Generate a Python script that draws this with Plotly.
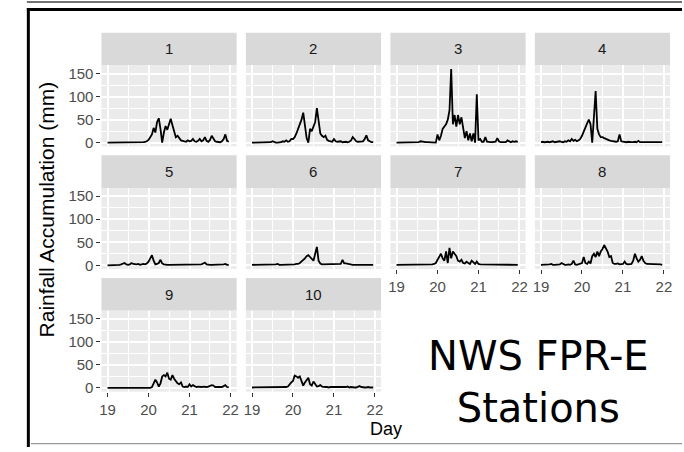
import plotly.graph_objects as go

# ---------------- data ----------------
STATIONS = ["1", "2", "3", "4", "5", "6", "7", "8", "9", "10"]
START_DAY = 19
HOURS_PER_DAY = 24
X_TICKS = [19, 20, 21, 22]
Y_TICKS = [0, 50, 100, 150]

s1 = [0, 0, 0, 0, 0, 0, 0, 0, 0, 0, 0, 0,
      0, 0, 0, 0, 0, 0, 0, 0, 0, 1, 2, 3,
      6, 12, 18, 32, 22, 45, 53, 30, 0, 22, 36, 28,
      40, 52, 38, 22, 12, 15, 10, 5, 4, 3, 2, 5,
      3, 4, 8, 3, 2, 4, 8, 3, 5, 12, 4, 2,
      6, 15, 8, 3, 2, 2, 1, 3, 8, 18, 4, 2]
s2 = [0, 0, 0, 0, 0, 0, 0, 0, 0, 0, 0, 1,
      3, 1, 0, 0, 0, 1, 3, 2, 5, 2, 3, 8,
      8, 12, 20, 30, 38, 50, 65, 35, 10, 0, 30, 25,
      35, 45, 75, 40, 20, 15, 12, 15, 6, 4, 3, 2,
      8, 3, 2, 2, 3, 1, 2, 2, 1, 2, 5, 12,
      8, 3, 2, 2, 2, 3, 8, 16, 5, 2, 1, 1]
s3 = [0, 0, 0, 0, 0, 0, 0, 0, 0, 0, 0, 0,
      0, 1, 3, 2, 1, 1, 1, 1, 1, 1, 0, 0,
      18, 5, 15, 30, 35, 40, 50, 70, 160, 40, 60, 35,
      60, 40, 55, 30, 10, 25, 5, 20, 3, 20, 0, 105,
      5, 8, 2, 2, 12, 2, 1, 1, 1, 1, 2, 10,
      3, 1, 1, 1, 1, 5, 2, 1, 3, 2, 3, 2]
s4 = [1, 2, 1, 2, 2, 1, 2, 3, 1, 2, 2, 3,
      2, 1, 3, 2, 5, 3, 8, 4, 6, 3, 5, 8,
      15, 25, 35, 42, 50, 40, 0, 50, 112, 30, 18, 12,
      12, 10, 8, 6, 5, 4, 3, 3, 2, 3, 18, 3,
      2, 2, 1, 2, 1, 1, 1, 2, 1, 4, 1, 1,
      1, 1, 2, 1, 1, 1, 1, 1, 1, 2, 1, 1]
s5 = [0, 0, 0, 0, 0, 0, 0, 1, 2, 3, 5, 2,
      1, 2, 5, 3, 2, 2, 3, 1, 2, 3, 2, 4,
      8, 15, 22, 10, 2, 3, 5, 12, 4, 2, 1, 1,
      1, 1, 2, 1, 1, 1, 1, 1, 1, 1, 1, 1,
      1, 1, 1, 1, 1, 1, 1, 2, 4, 6, 2, 1,
      1, 1, 1, 1, 1, 1, 1, 1, 2, 3, 1, 1]
s6 = [1, 1, 1, 1, 1, 1, 1, 1, 1, 1, 1, 1,
      1, 1, 2, 3, 1, 1, 1, 1, 1, 1, 1, 1,
      1, 2, 3, 3, 5, 8, 12, 15, 20, 22, 18, 15,
      10, 25, 40, 10, 4, 2, 2, 2, 2, 2, 2, 2,
      2, 2, 3, 2, 3, 12, 4, 4, 3, 2, 2, 1,
      1, 1, 1, 1, 1, 1, 1, 1, 1, 1, 1, 1]
s7 = [1, 1, 1, 1, 1, 1, 1, 1, 2, 1, 1, 1,
      1, 1, 1, 1, 2, 1, 1, 2, 1, 2, 3, 5,
      12, 20, 25, 15, 10, 30, 5, 38, 15, 30, 25, 20,
      10, 8, 12, 5, 4, 8, 5, 3, 10, 6, 3, 8,
      3, 2, 2, 1, 1, 1, 1, 1, 1, 1, 1, 1,
      1, 1, 1, 1, 1, 1, 1, 1, 1, 1, 1, 1]
s8 = [1, 1, 1, 1, 1, 2, 3, 1, 1, 1, 1, 2,
      5, 2, 1, 1, 2, 1, 3, 10, 2, 1, 2, 3,
      5, 18, 5, 3, 8, 4, 20, 25, 18, 30, 20, 30,
      35, 44, 38, 30, 18, 20, 5, 3, 3, 4, 2, 3,
      3, 8, 3, 2, 2, 3, 10, 25, 15, 8, 12, 20,
      10, 5, 3, 3, 2, 2, 2, 2, 2, 2, 2, 1]
s9 = [0, 0, 0, 0, 0, 0, 0, 0, 0, 0, 0, 0,
      0, 0, 0, 0, 0, 0, 0, 0, 0, 0, 0, 0,
      0, 0, 2, 10, 18, 12, 3, 10, 25, 28, 25, 33,
      20, 18, 28, 20, 15, 10, 8, 12, 3, 2, 3, 2,
      8, 3, 6, 3, 2, 3, 2, 2, 3, 2, 2, 3,
      4, 6, 5, 2, 2, 2, 2, 2, 4, 6, 2, 1]
s10 = [1, 1, 1, 1, 1, 1, 2, 1, 1, 1, 2, 1,
       1, 1, 1, 1, 2, 1, 1, 1, 2, 3, 8, 12,
       15, 27, 25, 22, 25, 15, 5, 12, 18, 22, 8, 5,
       14, 8, 3, 4, 6, 3, 2, 2, 2, 1, 2, 2,
       2, 1, 1, 2, 1, 1, 1, 2, 3, 1, 2, 1,
       1, 1, 3, 4, 2, 1, 1, 1, 2, 1, 1, 1]
SERIES = [s1, s2, s3, s4, s5, s6, s7, s8, s9, s10]

# ---------------- layout geometry (pixels) ----------------
W, H = 684, 452
COL_LEFT = [100, 245.3, 390.7, 536]
COL_W = 136
ROW_TOP = [66, 190, 314]
ROW_H = 82
STRIP_H = 33


def px(x):
    return x / W


def py(y):
    return 1 - y / H


TICK_FONT = dict(family="Liberation Sans, Arial", size=15, color="#4D4D4D")

fig = go.Figure()
layout = {}
shapes = []
annotations = []

for i, (name, vals) in enumerate(zip(STATIONS, SERIES)):
    r, c = divmod(i, 4)
    k = "" if i == 0 else str(i + 1)
    xs = [START_DAY + h / HOURS_PER_DAY for h in range(len(vals))]
    fig.add_trace(go.Scatter(x=xs, y=vals, mode="lines",
                             line=dict(color="black", width=1.8),
                             xaxis="x" + k, yaxis="y" + k,
                             showlegend=False, hoverinfo="skip"))
    x0, x1 = COL_LEFT[c], COL_LEFT[c] + COL_W
    y0, y1 = ROW_TOP[r], ROW_TOP[r] + ROW_H
    show_x = i >= 6
    show_y = c == 0
    layout["xaxis" + k] = dict(
        domain=[px(x0), px(x1)], anchor="y" + k, range=[18.85, 22.15],
        tickvals=X_TICKS, showticklabels=show_x,
        ticks="outside" if show_x else "", ticklen=4, tickwidth=1.1,
        tickcolor="#333333", tickfont=TICK_FONT,
        showgrid=True, gridcolor="white", gridwidth=1.6, zeroline=False,
        showline=False,
        minor=dict(dtick=0.5, tick0=19, showgrid=True, gridcolor="white",
                   gridwidth=0.8, ticks=""))
    layout["yaxis" + k] = dict(
        domain=[py(y1), py(y0)], anchor="x" + k, range=[-8, 168],
        tickvals=Y_TICKS, showticklabels=show_y,
        ticks="outside" if show_y else "", ticklen=4, tickwidth=1.1,
        tickcolor="#333333", tickfont=TICK_FONT,
        showgrid=True, gridcolor="white", gridwidth=1.6, zeroline=False,
        showline=False,
        minor=dict(dtick=25, tick0=0, showgrid=True, gridcolor="white",
                   gridwidth=0.8, ticks=""))
    # strip
    shapes.append(dict(type="rect", xref="paper", yref="paper",
                       x0=px(x0), x1=px(x1), y0=py(y0), y1=py(y0 - STRIP_H),
                       fillcolor="#D9D9D9", line=dict(width=0), layer="below"))
    annotations.append(dict(xref="paper", yref="paper",
                            x=px((x0 + x1) / 2), y=py(y0 - STRIP_H / 2),
                            text=name, showarrow=False,
                            xanchor="center", yanchor="middle",
                            font=dict(family="Liberation Sans, Arial", size=15,
                                      color="#1A1A1A")))

# frame lines
shapes += [
    dict(type="line", xref="paper", yref="paper", x0=px(25), x1=px(684),
         y0=py(2), y1=py(2), line=dict(color="#444444", width=1.5)),
    dict(type="line", xref="paper", yref="paper", x0=px(25), x1=px(684),
         y0=py(9.5), y1=py(9.5), line=dict(color="black", width=3)),
    dict(type="line", xref="paper", yref="paper", x0=px(26.5), x1=px(26.5),
         y0=py(8), y1=py(452), line=dict(color="black", width=3)),
    dict(type="line", xref="paper", yref="paper", x0=px(29), x1=px(684),
         y0=py(448.5), y1=py(448.5), line=dict(color="#999999", width=1.2)),
]

# axis titles
annotations.append(dict(xref="paper", yref="paper", x=px(45), y=py(212),
                        text="Rainfall Accumulation (mm)", textangle=-90,
                        showarrow=False, xanchor="center", yanchor="middle",
                        font=dict(family="Liberation Sans, Arial", size=21,
                                  color="black")))
annotations.append(dict(xref="paper", yref="paper", x=px(386), y=py(434),
                        text="Day", showarrow=False,
                        xanchor="center", yanchor="middle",
                        font=dict(family="Liberation Sans, Arial", size=18,
                                  color="black")))
# big caption
annotations.append(dict(xref="paper", yref="paper", x=px(540), y=py(386),
                        text="NWS FPR-E<br>Stations", showarrow=False,
                        xanchor="center", yanchor="middle", align="center",
                        font=dict(family="DejaVu Sans", size=40,
                                  color="black")))

fig.update_layout(
    width=W, height=H, autosize=False,
    margin=dict(l=0, r=0, t=0, b=0),
    paper_bgcolor="white", plot_bgcolor="#EBEBEB",
    shapes=shapes, annotations=annotations,
    **layout,
)

fig.write_html("out.html",
               config={"displayModeBar": False},
               post_script="document.body.style.margin='0px';"
                           "document.body.style.overflow='hidden';")
